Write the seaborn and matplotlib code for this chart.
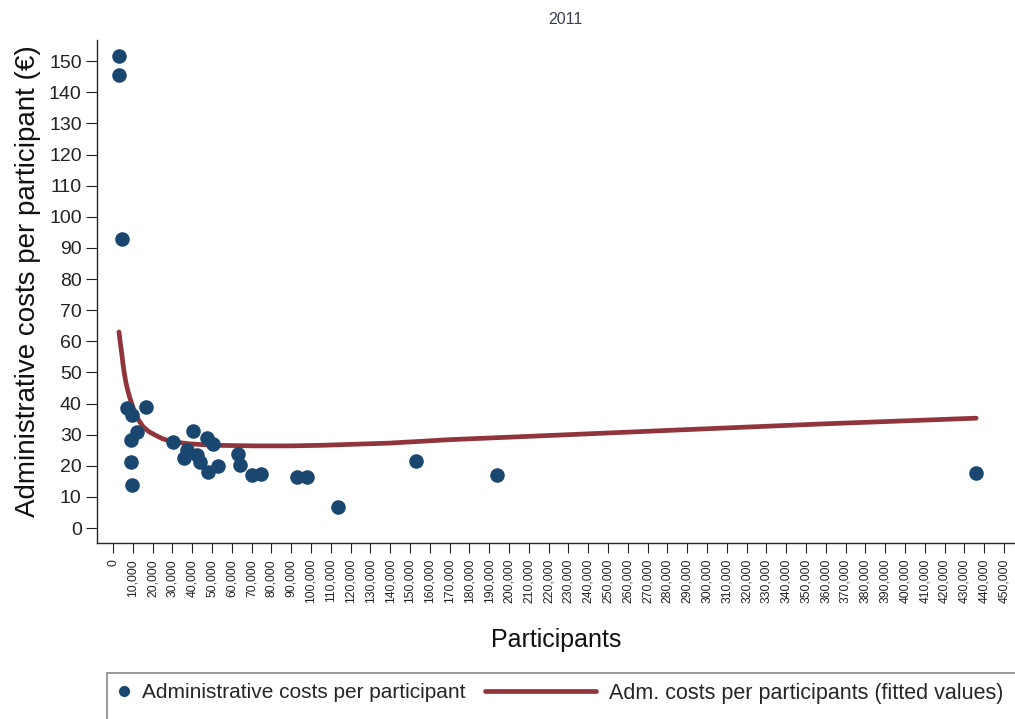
import numpy as np
import pandas as pd
import matplotlib
matplotlib.use("Agg")
import matplotlib.pyplot as plt
from matplotlib.patches import Rectangle
from matplotlib.ticker import FuncFormatter
import seaborn as sns

# observed points (participants, cost per participant in EUR)
participants = [3200, 3200, 4500, 6900, 9400, 12000, 8900, 8900, 9400, 16700,
                30500, 40600, 37200, 35900, 42300, 43900, 47300, 50700, 48100, 53200,
                63300, 64100, 70100, 74600, 92800, 97800, 113800, 153000, 194000, 436000]
costs = [151.7, 145.5, 93.0, 38.5, 36.3, 30.9, 28.3, 21.3, 13.8, 38.8,
         27.7, 31.3, 25.1, 22.5, 23.4, 21.3, 28.9, 27.0, 17.9, 20.0,
         23.8, 20.2, 17.0, 17.3, 16.5, 16.5, 6.8, 21.6, 17.0, 17.7]

# fitted curve
fit_x = [3000, 3700, 4400, 5000, 5700, 6500, 7400, 8400, 9400, 10600, 12000, 13600,
         15300, 18000, 21200, 25000, 29600, 38000, 50000, 72000, 90000, 106000,
         140000, 170000, 230000, 296000, 360000, 436000]
fit_y = [63.0, 59.3, 56.1, 52.8, 49.7, 46.8, 44.3, 42.0, 40.1, 37.8, 35.8, 34.0,
         32.5, 31.0, 29.9, 28.7, 27.8, 27.1, 26.6, 26.4, 26.4, 26.6,
         27.3, 28.4, 30.0, 31.8, 33.5, 35.3]

df_pts = pd.DataFrame({"Participants": participants, "Cost": costs})
df_fit = pd.DataFrame({"Participants": fit_x, "Fitted": fit_y})

sns.set_style("ticks")
plt.rcParams["font.family"] = ["Liberation Sans", "DejaVu Sans"]

navy = "#1a476f"
maroon = "#90353b"

fig = plt.figure(figsize=(10.15, 7.19), dpi=100)
ax = fig.add_axes([97 / 1015, 1 - 543 / 719, 1 - 97 / 1015, (543 - 40) / 719])

sns.lineplot(data=df_fit, x="Participants", y="Fitted", color=maroon, linewidth=3.4,
             ax=ax, zorder=2, errorbar=None)
sns.scatterplot(data=df_pts, x="Participants", y="Cost", color=navy, s=110,
                edgecolor=navy, linewidth=0, ax=ax, zorder=3)

ax.set_xlim(-8100, 455600)
ax.set_ylim(-4.8, 156.8)
ax.set_xticks(np.arange(0, 450001, 10000))
ax.set_yticks(np.arange(0, 151, 10))
ax.xaxis.set_major_formatter(FuncFormatter(lambda v, p: f"{int(v):,}"))
ax.tick_params(axis="x", labelsize=8.7, length=7.5, width=0.8, pad=4, colors="#222222")
ax.tick_params(axis="y", labelsize=14, length=8, width=0.8, pad=3, colors="#222222")
for lab in ax.get_xticklabels():
    lab.set_rotation(90)

sns.despine(ax=ax)
ax.spines["left"].set_linewidth(1.0)
ax.spines["bottom"].set_linewidth(1.0)

ax.set_xlabel("Participants", fontsize=18, labelpad=18, color="#111111")
ax.set_ylabel("Administrative costs per participant (\u20ac)", fontsize=20, labelpad=2,
              color="#111111")
ax.yaxis.set_label_coords(-56 / 918, 0.52)
fig.text(565 / 1015, 1 - 20 / 719, "2011", ha="center", va="center", fontsize=11.5,
         color="#3a3f50")

# legend frame and entries
fig.patches.append(Rectangle((107 / 1015, -0.02), 1.0, 1 - 673 / 719 + 0.02,
                             transform=fig.transFigure, fill=False,
                             edgecolor="#888888", linewidth=1.2))
h1 = plt.Line2D([], [], marker="o", color=navy, linestyle="none", markersize=7)
h2 = plt.Line2D([], [], color=maroon, linewidth=3.4)
fig.legend([h1], ["Administrative costs per participant"], loc="center left",
           bbox_to_anchor=(117 / 1015, 1 - 693 / 719), frameon=False, fontsize=15,
           handlelength=0.7, handletextpad=0.5, borderaxespad=0, borderpad=0)
fig.legend([h2], ["Adm. costs per participants (fitted values)"], loc="center left",
           bbox_to_anchor=(485 / 1015, 1 - 693 / 719), frameon=False, fontsize=15.5,
           handlelength=5.15, handletextpad=0.6, borderaxespad=0, borderpad=0)

fig.savefig("out.png", dpi=100)
